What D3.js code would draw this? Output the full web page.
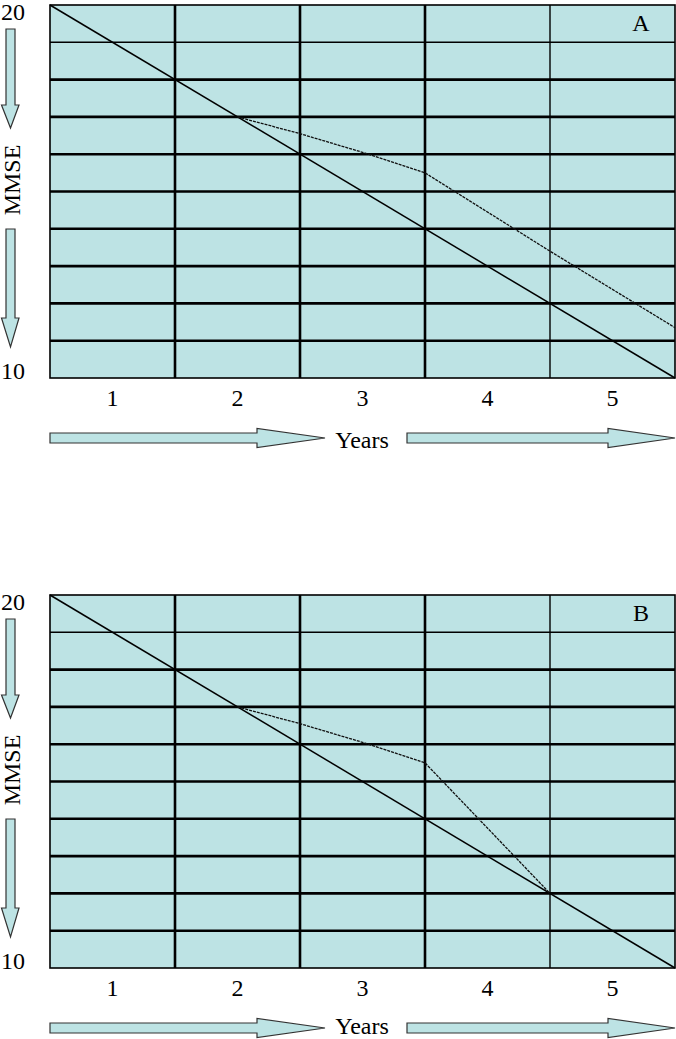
<!DOCTYPE html>
<html>
<head>
<meta charset="utf-8">
<script src="https://cdn.jsdelivr.net/npm/d3@7"></script>
<style>
body { margin: 0; background: #fff; }
text { font-family: "Liberation Serif", "Times New Roman", serif; font-size: 24px; fill: #000; }
</style>
</head>
<body>
<div id="chart"></div>
<script>
// data
var years = [1, 2, 3, 4, 5];
var yTicks = [20, 10];
var gridX = [1.5, 2.5, 3.5, 4.5];
var gridY = [19, 18, 17, 16, 15, 14, 13, 12, 11];
var refX = [0.5, 5.5];
var refY = [20, 10];
var panelLabels = ["A", "B"];
var obsXA = [2, 2.5, 3, 3.5, 4.5, 5.5];
var obsYA = [17, 16.55, 16.05, 15.5, 13.4, 11.35];
var obsXB = [2, 2.5, 3, 3.5, 4.5];
var obsYB = [17, 16.55, 16.05, 15.5, 12];

var width = 676, height = 1039;
var fillCol = "#bde3e4";
var svg = d3.select("#chart").append("svg")
            .attr("width", width)
            .attr("height", height);

var x = d3.scaleLinear().domain([0.5, 5.5]).range([50, 675]);
var y = d3.scaleLinear().domain([10, 20]).range([378, 5]);

var line = d3.line().x(function(d) { return x(d[0]); }).y(function(d) { return y(d[1]); });

// vertical arrow, pointing down
function vArrow(g, top, headTop, tip) {
  g.append("path")
   .attr("d", ["M", 6, top, "L", 15, top, "L", 15, headTop, "L", 19, headTop,
               "L", 10.5, tip, "L", 1.5, headTop, "L", 6, headTop, "Z"].join(" "))
   .attr("fill", fillCol).attr("stroke", "#333").attr("stroke-width", 1.2);
}
// horizontal arrow, pointing right
function hArrow(g, left, headLeft, tip, cy) {
  g.append("path")
   .attr("d", ["M", left, cy - 5, "L", headLeft, cy - 5, "L", headLeft, cy - 9.5,
               "L", tip, cy, "L", headLeft, cy + 9.5, "L", headLeft, cy + 5,
               "L", left, cy + 5, "Z"].join(" "))
   .attr("fill", fillCol).attr("stroke", "#333").attr("stroke-width", 1.2);
}

function drawPanel(top, label, obsX, obsY, yearsY) {
  var g = svg.append("g").attr("transform", "translate(0," + top + ")");

  g.append("rect")
   .attr("x", x(0.5)).attr("y", y(20))
   .attr("width", x(5.5) - x(0.5)).attr("height", y(10) - y(20))
   .attr("fill", fillCol);

  g.selectAll(".hgrid").data(gridY).enter().append("line")
   .attr("x1", x(0.5)).attr("x2", x(5.5))
   .attr("y1", function(d) { return y(d); }).attr("y2", function(d) { return y(d); })
   .attr("stroke", "#000")
   .attr("stroke-width", function(d) { return d == 19 ? 1.4 : 2.6; });

  g.selectAll(".vgrid").data(gridX).enter().append("line")
   .attr("x1", function(d) { return x(d); }).attr("x2", function(d) { return x(d); })
   .attr("y1", y(20)).attr("y2", y(10))
   .attr("stroke", "#000")
   .attr("stroke-width", function(d) { return d == 4.5 ? 1.4 : 2.6; });

  g.append("rect")
   .attr("x", x(0.5)).attr("y", y(20))
   .attr("width", x(5.5) - x(0.5)).attr("height", y(10) - y(20))
   .attr("fill", "none").attr("stroke", "#000").attr("stroke-width", 1.6);

  // reference decline
  g.append("path")
   .datum(d3.zip(refX, refY))
   .attr("d", line)
   .attr("fill", "none").attr("stroke", "#000").attr("stroke-width", 1.5);

  // observed course
  g.append("path")
   .datum(d3.zip(obsX, obsY))
   .attr("d", line)
   .attr("fill", "none").attr("stroke", "#111")
   .attr("stroke-width", 1.3).attr("stroke-dasharray", "3,1");

  g.append("text").attr("x", 641).attr("y", 31)
   .attr("text-anchor", "middle").text(label);

  g.selectAll(".ytick").data(yTicks).enter().append("text")
   .attr("x", 13).attr("y", function(d) { return d == 20 ? 20 : 379; })
   .attr("text-anchor", "middle").text(function(d) { return d; });

  g.selectAll(".xtick").data(years).enter().append("text")
   .attr("x", function(d) { return x(d); }).attr("y", 406)
   .attr("text-anchor", "middle").text(function(d) { return d; });

  vArrow(g, 29, 105, 128);
  vArrow(g, 229, 318, 347);
  g.append("text")
   .attr("transform", "translate(20,180) rotate(-90)")
   .attr("text-anchor", "middle").text("MMSE");

  hArrow(g, 50, 257, 325, 438);
  hArrow(g, 407, 608, 675, 438);
  g.append("text").attr("x", 362).attr("y", yearsY)
   .attr("text-anchor", "middle").text("Years");
}

drawPanel(0, panelLabels[0], obsXA, obsYA, 448);
drawPanel(590, panelLabels[1], obsXB, obsYB, 444);
</script>
</body>
</html>
